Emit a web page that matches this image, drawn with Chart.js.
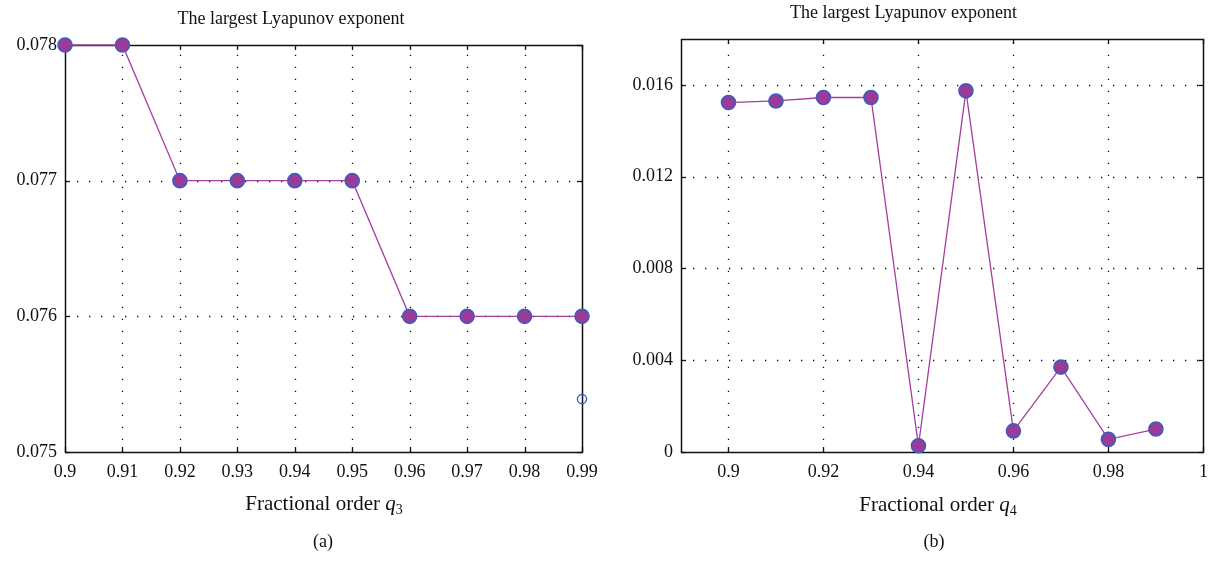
<!DOCTYPE html>
<html>
<head>
<meta charset="utf-8">
<script src="https://cdn.jsdelivr.net/npm/chart.js@4.4.1/dist/chart.umd.min.js"></script>
<style>
  html, body { margin: 0; padding: 0; background: #fff; }
  body { width: 1212px; height: 561px; position: relative; overflow: hidden; font-family: "Liberation Serif", "DejaVu Serif", serif; }
  canvas { position: absolute; top: 0; }
  .lbl { position: absolute; font-size: 21px; color: #111; white-space: nowrap; transform: translate(-50%, -50%); }
  .lbl sub { font-size: 14px; vertical-align: -4px; line-height: 0; }
  .cap { font-size: 18px; }
</style>
</head>
<body>
<canvas id="ca" width="600" height="561" style="left:0px;width:600px;height:561px"></canvas>
<canvas id="cb" width="612" height="561" style="left:600px;width:612px;height:561px"></canvas>
<div class="lbl" style="left:324px;top:503px">Fractional order <i>q</i><sub>3</sub></div>
<div class="lbl" style="left:938px;top:504px">Fractional order <i>q</i><sub>4</sub></div>
<div class="lbl cap" style="left:323px;top:541px">(a)</div>
<div class="lbl cap" style="left:934px;top:541px">(b)</div>
<script>
// ---------- data ----------
const chartTitle = "The largest Lyapunov exponent";

const q3 = [0.90, 0.91, 0.92, 0.93, 0.94, 0.95, 0.96, 0.97, 0.98, 0.99];
const lyapA = [0.078, 0.078, 0.077, 0.077, 0.077, 0.077, 0.076, 0.076, 0.076, 0.076];
const hollowX = [0.99];
const hollowY = [0.07539];
const xTicksA = [0.90, 0.91, 0.92, 0.93, 0.94, 0.95, 0.96, 0.97, 0.98, 0.99];
const xTickLabelsA = ["0.9", "0.91", "0.92", "0.93", "0.94", "0.95", "0.96", "0.97", "0.98", "0.99"];
const yTicksA = [0.075, 0.076, 0.077, 0.078];
const yTickLabelsA = ["0.075", "0.076", "0.077", "0.078"];

const q4 = [0.90, 0.91, 0.92, 0.93, 0.94, 0.95, 0.96, 0.97, 0.98, 0.99];
const lyapB = [0.01523, 0.0153, 0.01545, 0.01545, 0.00027, 0.01574, 0.00092, 0.0037, 0.00055, 0.0010];
const xTicksB = [0.90, 0.92, 0.94, 0.96, 0.98, 1.0];
const xTickLabelsB = ["0.9", "0.92", "0.94", "0.96", "0.98", "1"];
const yTicksB = [0, 0.004, 0.008, 0.012, 0.016];
const yTickLabelsB = ["0", "0.004", "0.008", "0.012", "0.016"];

// ---------- styles ----------
const FONT = "'Liberation Serif', 'DejaVu Serif', serif";
const PURPLE_FILL = "#9b3a97";
const BLUE_EDGE = "#3d5cc0";
const LINE = "#a23fa0";

function pts(xs, ys) { return xs.map((x, i) => ({ x: x, y: ys[i] })); }

// Draws MATLAB-style box, dotted grid and inward ticks from the chart's scales
const matlabAxes = {
  id: 'matlabAxes',
  beforeDatasetsDraw(chart) {
    const { ctx, chartArea: a, scales } = chart;
    const xs = scales.x, ys = scales.y;
    ctx.save();
    ctx.strokeStyle = "#111";
    ctx.lineWidth = 1.3;
    ctx.setLineDash([1.3, 10.7]);
    xs.ticks.forEach(t => {
      const px = Math.round(xs.getPixelForValue(t.value)) + 0.5;
      if (px <= a.left + 1 || px >= a.right - 1) return;
      ctx.beginPath(); ctx.moveTo(px, a.bottom); ctx.lineTo(px, a.top); ctx.stroke();
    });
    ys.ticks.forEach(t => {
      const py = Math.round(ys.getPixelForValue(t.value)) + 0.5;
      if (py <= a.top + 1 || py >= a.bottom - 1) return;
      ctx.beginPath(); ctx.moveTo(a.left, py); ctx.lineTo(a.right, py); ctx.stroke();
    });
    ctx.setLineDash([]);
    const tl = 5;
    xs.ticks.forEach(t => {
      const px = Math.round(xs.getPixelForValue(t.value)) + 0.5;
      ctx.beginPath(); ctx.moveTo(px, a.bottom); ctx.lineTo(px, a.bottom - tl); ctx.stroke();
      ctx.beginPath(); ctx.moveTo(px, a.top); ctx.lineTo(px, a.top + tl); ctx.stroke();
    });
    ys.ticks.forEach(t => {
      const py = Math.round(ys.getPixelForValue(t.value)) + 0.5;
      ctx.beginPath(); ctx.moveTo(a.left, py); ctx.lineTo(a.left + tl, py); ctx.stroke();
      ctx.beginPath(); ctx.moveTo(a.right, py); ctx.lineTo(a.right - tl, py); ctx.stroke();
    });
    ctx.lineWidth = 1.5;
    ctx.strokeRect(Math.round(a.left) + 0.5, Math.round(a.top) + 0.5,
                   Math.round(a.right - a.left), Math.round(a.bottom - a.top));
    ctx.restore();
  }
};

function makeChart(id, cfg) {
  const labelFor = (vals, labels) => (v) => {
    const i = vals.findIndex(t => Math.abs(t - v) < 1e-9);
    return i >= 0 ? labels[i] : '';
  };
  return new Chart(document.getElementById(id), {
    type: 'line',
    data: { datasets: cfg.datasets },
    options: {
      responsive: false,
      animation: false,
      events: [],
      layout: { padding: { left: 0, right: cfg.padRight, top: 0, bottom: 0 } },
      plugins: {
        legend: { display: false },
        tooltip: { enabled: false },
        title: {
          display: true,
          text: chartTitle,
          color: "#111",
          font: { family: FONT, size: 18, weight: 'normal', lineHeight: 1.2 },
          padding: { top: cfg.titleTop, bottom: cfg.titleBottom }
        }
      },
      scales: {
        x: {
          type: 'linear',
          min: cfg.xMin, max: cfg.xMax,
          grid: { display: false, drawTicks: false },
          border: { display: false },
          afterBuildTicks: (s) => { s.ticks = cfg.xTicks.map(v => ({ value: v })); },
          afterFit: (s) => { s.height = 109; s.paddingLeft = 0; s.paddingRight = 0; },
          ticks: {
            padding: 9,
            color: "#111",
            maxRotation: 0,
            autoSkip: false,
            font: { family: FONT, size: 18 },
            callback: labelFor(cfg.xTicks, cfg.xLabels)
          }
        },
        y: {
          type: 'linear',
          min: cfg.yMin, max: cfg.yMax,
          grid: { display: false, drawTicks: false },
          border: { display: false },
          afterBuildTicks: (s) => { s.ticks = cfg.yTicks.map(v => ({ value: v })); },
          afterFit: (s) => { s.width = cfg.yWidth; s.paddingTop = 0; s.paddingBottom = 0; },
          ticks: {
            padding: 8,
            color: "#111",
            autoSkip: false,
            font: { family: FONT, size: 18 },
            callback: labelFor(cfg.yTicks, cfg.yLabels)
          }
        }
      }
    },
    plugins: [matlabAxes]
  });
}

const mainStyle = {
  borderColor: LINE,
  borderWidth: 1.3,
  pointRadius: 7,
  pointBorderWidth: 1.6,
  pointBackgroundColor: PURPLE_FILL,
  pointBorderColor: BLUE_EDGE,
  tension: 0,
  fill: false,
  clip: false
};

makeChart('ca', {
  padRight: 18, titleTop: 8, titleBottom: 15.4,
  xMin: 0.90, xMax: 0.99, yMin: 0.075, yMax: 0.078, yWidth: 65,
  xTicks: xTicksA, xLabels: xTickLabelsA, yTicks: yTicksA, yLabels: yTickLabelsA,
  datasets: [
    Object.assign({ data: pts(q3, lyapA) }, mainStyle),
    {
      data: pts(hollowX, hollowY),
      showLine: false,
      pointRadius: 4.6,
      pointBorderWidth: 1.3,
      pointBackgroundColor: 'rgba(255,255,255,0)',
      pointBorderColor: "#3355c4",
      clip: false
    }
  ]
});

makeChart('cb', {
  padRight: 5, titleTop: 2, titleBottom: 15.4,
  xMin: 0.89, xMax: 1.0, yMin: 0, yMax: 0.018, yWidth: 81,
  xTicks: xTicksB, xLabels: xTickLabelsB, yTicks: yTicksB, yLabels: yTickLabelsB,
  datasets: [
    Object.assign({ data: pts(q4, lyapB) }, mainStyle)
  ]
});
</script>
</body>
</html>
